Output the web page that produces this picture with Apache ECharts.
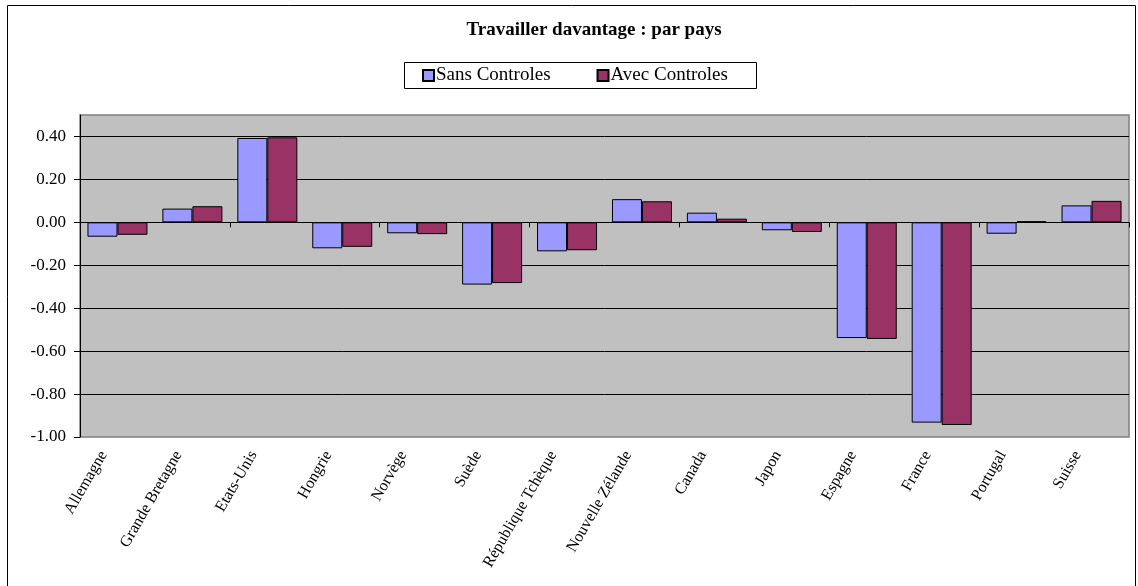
<!DOCTYPE html>
<html>
<head>
<meta charset="utf-8">
<title>Travailler davantage : par pays</title>
<script src="https://cdn.jsdelivr.net/npm/echarts@6/dist/echarts.min.js"></script>
<style>
    body{
        margin: 0;
        background: #fff;
    }
    #main{
        width: 1138px;
        height: 586px;
    }
</style>
</head>
<body>
<div id="main"></div>
<script>
    // donnees
    var pays = ['Allemagne', 'Grande Bretagne', 'Etats-Unis', 'Hongrie', 'Norvège', 'Suède',
        'République Tchèque', 'Nouvelle Zélande', 'Canada', 'Japon', 'Espagne', 'France', 'Portugal', 'Suisse'];
    var sansControles = [-0.067, 0.064, 0.393, -0.121, -0.051, -0.290, -0.135, 0.108, 0.045, -0.037, -0.539, -0.933, -0.053, 0.079];
    var avecControles = [-0.058, 0.075, 0.396, -0.114, -0.055, -0.283, -0.130, 0.098, 0.017, -0.045, -0.543, -0.944, 0.005, 0.100];
    var yMin = -1, yMax = 0.5, yStep = 0.2;

    var serif = 'Liberation Serif';
    var myChart = echarts.init(document.getElementById('main'));

    var option = {
        animation: false,
        backgroundColor: '#fff',
        textStyle: {fontFamily: serif, color: '#000'},
        title: {
            text: 'Travailler davantage : par pays',
            left: 594,
            top: 21,
            textAlign: 'center',
            padding: 0,
            textStyle: {fontFamily: serif, fontSize: 19, fontWeight: 'bold', color: '#000'}
        },
        legend: {
            data: ['Sans Controles', 'Avec Controles'],
            left: 422,
            top: 66,
            padding: 0,
            itemGap: 46,
            itemWidth: 11,
            itemHeight: 11,
            icon: 'rect',
            textStyle: {fontFamily: serif, fontSize: 19, color: '#000', padding: [0, 0, 0, -3]}
        },
        graphic: [
            {   // cadre du graphique
                type: 'rect',
                shape: {x: 7.5, y: 5.5, width: 1128, height: 620},
                style: {fill: null, stroke: '#000', lineWidth: 1},
                silent: true
            },
            {   // cadre de la legende
                type: 'rect',
                shape: {x: 404.5, y: 62.5, width: 352, height: 26},
                style: {fill: null, stroke: '#000', lineWidth: 1},
                silent: true
            }
        ],
        grid: {
            left: 80,
            top: 115,
            width: 1049,
            height: 322,
            show: true,
            backgroundColor: '#c0c0c0',
            borderColor: '#7f7f7f',
            borderWidth: 1.5
        },
        xAxis: [
            {
                type: 'category',
                data: pays,
                position: 'bottom',
                axisLine: {show: false, onZero: false},
                axisTick: {show: false},
                axisLabel: {
                    rotate: 60,
                    margin: 7,
                    verticalAlign: 'bottom',
                    padding: [0, 14, 0, 0],
                    fontFamily: serif,
                    fontSize: 16,
                    color: '#000'
                }
            },
            {
                type: 'category',
                data: pays,
                position: 'top',
                axisLine: {show: true, onZero: true, lineStyle: {color: '#000', width: 1}},
                axisTick: {show: true, inside: true, length: 5, lineStyle: {color: '#000'}},
                axisLabel: {show: false}
            }
        ],
        yAxis: {
            type: 'value',
            min: yMin,
            max: yMax,
            interval: yStep,
            axisLine: {show: true, lineStyle: {color: '#000', width: 1}},
            axisTick: {show: true, length: 6, lineStyle: {color: '#000'}},
            axisLabel: {
                showMaxLabel: false,
                margin: 14,
                fontFamily: serif,
                fontSize: 17,
                color: '#000',
                formatter: function (v) {
                    return v.toFixed(2);
                }
            },
            splitLine: {show: true, showMinLine: false, showMaxLine: false, lineStyle: {color: '#000', width: 1}}
        },
        series: [
            {
                name: 'Sans Controles',
                type: 'bar',
                xAxisIndex: 0,
                barWidth: 30,
                barGap: '0%',
                itemStyle: {color: '#9999ff', borderColor: '#000', borderWidth: 1},
                data: sansControles
            },
            {
                name: 'Avec Controles',
                type: 'bar',
                xAxisIndex: 0,
                barWidth: 30,
                barGap: '0%',
                itemStyle: {color: '#993366', borderColor: '#000', borderWidth: 1},
                data: avecControles
            }
        ]
    };
    myChart.setOption(option);
</script>
</body>
</html>
